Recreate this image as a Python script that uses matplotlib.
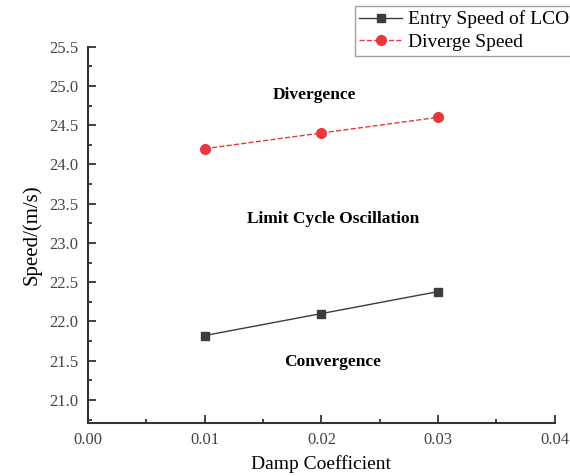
import numpy as np
import matplotlib.pyplot as plt
from matplotlib.ticker import MultipleLocator, FormatStrFormatter

# data
damp = [0.01, 0.02, 0.03]
entry_speed = [21.82, 22.10, 22.38]
diverge_speed = [24.20, 24.40, 24.60]

plt.rcParams['font.family'] = ['Liberation Serif', 'DejaVu Serif']

fig = plt.figure(figsize=(5.70, 4.76), dpi=100)
ax = fig.add_axes([0.1544, 0.112, 0.819, 0.79])

ax.plot(damp, entry_speed, '-s', color='#3c3c3c', lw=1.0, ms=6,
        label='Entry Speed of LCO')
ax.plot(damp, diverge_speed, '--o', color='#e8383d', lw=1.0, ms=7,
        label='Diverge Speed')

ax.set_xlim(0, 0.04)
ax.set_ylim(20.71, 25.5)
ax.xaxis.set_major_locator(MultipleLocator(0.01))
ax.xaxis.set_minor_locator(MultipleLocator(0.005))
ax.yaxis.set_major_locator(MultipleLocator(0.5))
ax.yaxis.set_minor_locator(MultipleLocator(0.25))
ax.xaxis.set_major_formatter(FormatStrFormatter('%.2f'))
ax.yaxis.set_major_formatter(FormatStrFormatter('%.1f'))
ax.tick_params(which='both', direction='in', labelsize=12, colors='#222222',
               labelcolor='#444444', width=1.2)
ax.tick_params(which='major', length=6, pad=7)
ax.tick_params(which='minor', length=3)
for s in ['top', 'right']:
    ax.spines[s].set_visible(False)
for s in ['left', 'bottom']:
    ax.spines[s].set_linewidth(1.5)
    ax.spines[s].set_color('#333333')

ax.set_xlabel('Damp Coefficient', fontsize=14, labelpad=5)
ax.set_ylabel('Speed/(m/s)', fontsize=15, labelpad=5)

ax.text(0.0194, 24.89, 'Divergence', ha='center', va='center',
        fontsize=12.5, fontweight='bold')
ax.text(0.021, 23.31, 'Limit Cycle Oscillation', ha='center', va='center',
        fontsize=12.5, fontweight='bold')
ax.text(0.021, 21.48, 'Convergence', ha='center', va='center',
        fontsize=12.5, fontweight='bold')

leg = fig.legend(loc='upper left', bbox_to_anchor=(0.622, 0.988),
                 fontsize=14, frameon=True, fancybox=False, handlelength=2.2,
                 borderpad=0.25, labelspacing=0.25, handletextpad=0.3,
                 borderaxespad=0)
leg.get_frame().set_edgecolor('#888888')
leg.get_frame().set_linewidth(1.0)

fig.savefig('out.png', dpi=100)
